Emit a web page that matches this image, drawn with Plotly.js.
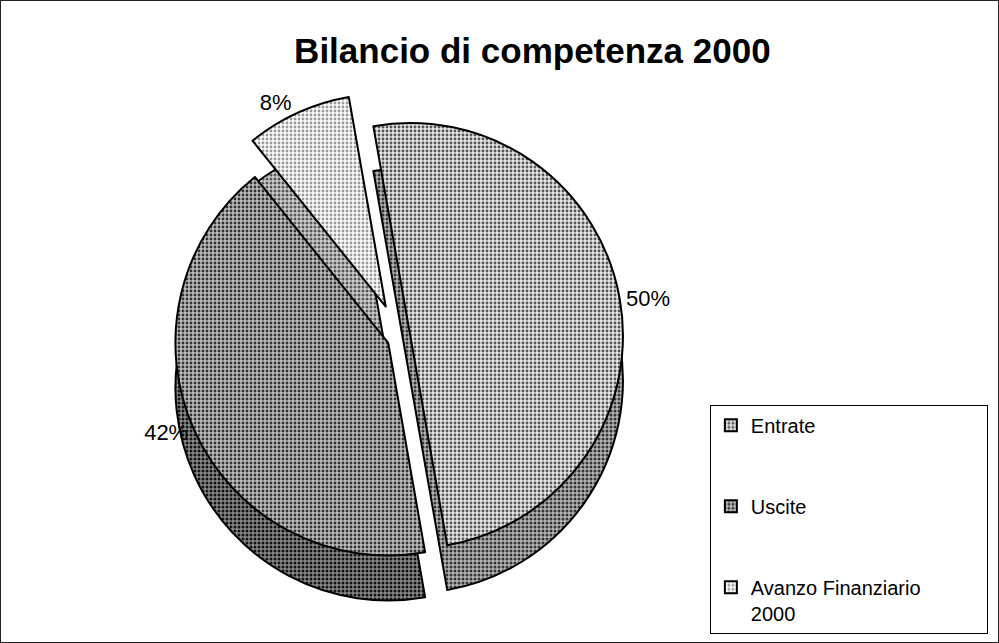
<!DOCTYPE html>
<html>
<head>
<meta charset="utf-8">
<script src="https://cdn.plot.ly/plotly-3.0.1.min.js"></script>
<style>
html,body{margin:0;padding:0;background:#fff;}
#chart{width:997px;height:641px;border:1px solid #222;}
</style>
</head>
<body>
<div id="chart"></div>
<script>
const labels = ["Entrate", "Uscite", "Avanzo Finanziario 2000"];
const values = [50, 42, 8];
const pad = "\u00a0".repeat(11);
const legendLabels = ["Entrate<br> <br> ", "Uscite<br> <br> ", "Avanzo Finanziario" + pad + "<br>2000"];

const topFg = ["#555555", "#333333", "#999999"];
const topBg = ["#e6e6e6", "#bdbdbd", "#ffffff"];
const sideFg = ["#333333", "#111111", "#555555"];
const sideBg = ["#b5b5b5", "#8a8a8a", "#cfcfcf"];
const pulls = [0.05, 0.06, 0.16];

const common = {
  type: "pie",
  values: values,
  labels: legendLabels,
  customdata: labels,
  sort: false,
  direction: "clockwise",
  rotation: -10,
  pull: pulls,
  hole: 0
};

const sideTrace = Object.assign({}, common, {
  domain: {x: [0.04, 0.76], y: [0.02, 0.79]},
  marker: {
    colors: sideBg,
    line: {color: "#000", width: 2},
    pattern: {shape: ".", fgcolor: sideFg, bgcolor: sideBg, size: 4, solidity: 0.45}
  },
  texttemplate: " ",
  textposition: "outside",
  outsidetextfont: {size: 22, color: "rgba(0,0,0,0)"},
  showlegend: false,
  hoverinfo: "skip"
});

const faceTrace = Object.assign({}, common, {
  domain: {x: [0.04, 0.76], y: [0.09, 0.86]},
  marker: {
    colors: topBg,
    line: {color: "#000", width: 2},
    pattern: {shape: ".", fgcolor: topFg, bgcolor: topBg, size: 4, solidity: 0.4}
  },
  texttemplate: "%{percent:.0%}",
  textposition: "outside",
  outsidetextfont: {size: 22, color: "#000", family: "Liberation Sans, Arial, sans-serif"},
  hovertemplate: "%{customdata}: %{percent:.0%}<extra></extra>"
});

const layout = {
  width: 997, height: 641,
  margin: {l: 0, r: 0, t: 0, b: 0},
  paper_bgcolor: "#fff",
  font: {family: "Liberation Sans, Arial, sans-serif", color: "#000"},
  title: {
    text: "<b>Bilancio di competenza 2000</b>",
    font: {size: 35, color: "#000", family: "Liberation Sans, Arial, sans-serif"},
    x: 0.533, xanchor: "center", y: 0.922, yanchor: "middle"
  },
  showlegend: true,
  legend: {
    x: 0.711, xanchor: "left", y: 0.37, yanchor: "top",
    bordercolor: "#000", borderwidth: 1, bgcolor: "#fff",
    font: {size: 20, color: "#000"},
    valign: "top",
    traceorder: "normal"
  }
};

Plotly.newPlot("chart", [sideTrace, faceTrace], layout, {displayModeBar: false, staticPlot: true});
</script>
</body>
</html>
